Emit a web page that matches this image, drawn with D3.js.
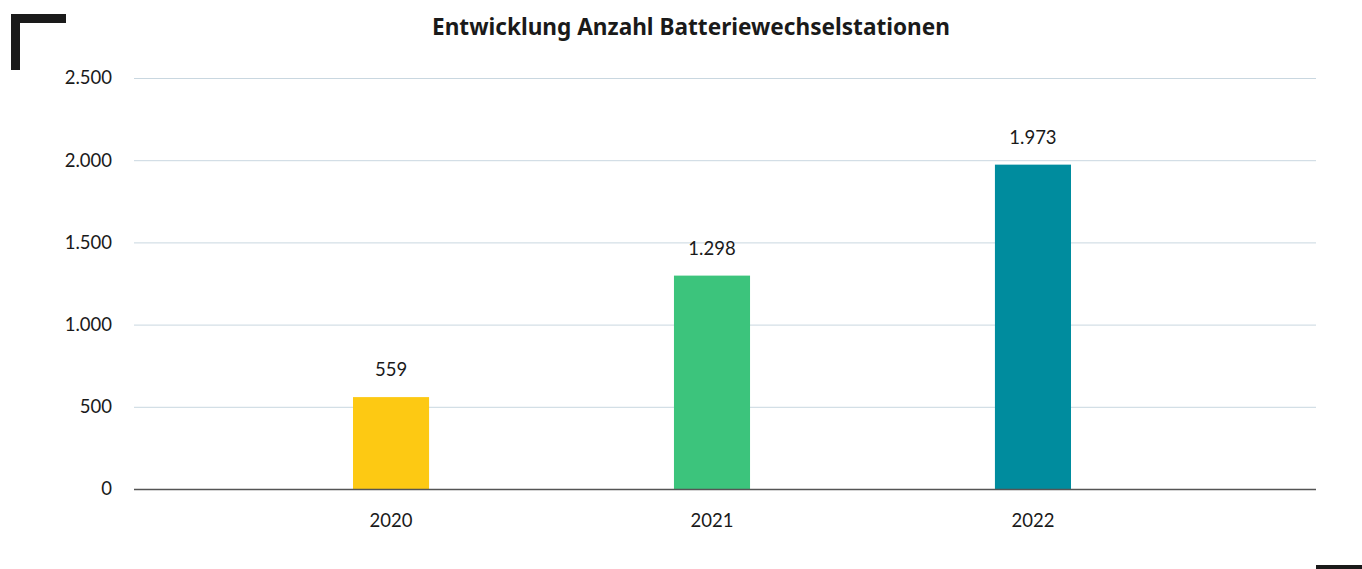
<!DOCTYPE html>
<html><head><meta charset="utf-8">
<script src="https://cdn.jsdelivr.net/npm/d3@7"></script>
<style>html,body{margin:0;padding:0;background:#fff;}svg{display:block;}</style>
</head><body>
<svg id="c" width="1362" height="569"></svg>
<script>
const title = "Entwicklung Anzahl Batteriewechselstationen";
const categories = ["2020", "2021", "2022"];
const values = [559, 1298, 1973];
const colors = ["#fdc913", "#3cc47c", "#008c9e"];
const yTicks = [0, 500, 1000, 1500, 2000, 2500];

const W = 1362, H = 569;
const plot = {left: 134, right: 1316, top: 78, bottom: 489};
const font = "Lato, 'Noto Sans', sans-serif";
const svg = d3.select("#c");

const fmt = v => d3.format(",")(v).replace(/,/g, ".");

const x = d3.scaleBand().domain(categories).range([353, 1071]).paddingInner(0.763).paddingOuter(0);
const y = d3.scaleLinear().domain([0, 2500]).range([plot.bottom, plot.top]);

// corner marks
svg.append("path").attr("d", "M15.5,70 V18.5 H66").attr("fill", "none").attr("stroke", "#1a1a1a").attr("stroke-width", 9).attr("stroke-linejoin", "miter");
svg.append("rect").attr("x", 1316).attr("y", 565).attr("width", 46).attr("height", 6).attr("fill", "#1a1a1a");

// title
svg.append("text").attr("x", 691).attr("y", 35).attr("text-anchor", "middle")
  .attr("font-family", "'Noto Sans', sans-serif").attr("font-weight", 700).attr("font-size", 22.6).attr("fill", "#1a1a1a").text(title);

// gridlines
svg.append("g").selectAll("line").data(yTicks.filter(d => d > 0)).join("line")
  .attr("x1", plot.left).attr("x2", plot.right)
  .attr("y1", d => y(d) + 0.5).attr("y2", d => y(d) + 0.5)
  .attr("stroke", "#c9d7e0").attr("stroke-width", 1);

// y axis labels
const ya = svg.append("g").attr("transform", `translate(${plot.left - 22},0)`)
  .call(d3.axisLeft(y).tickValues(yTicks).tickFormat(fmt).tickSize(0).tickPadding(0));
ya.select(".domain").remove();
ya.selectAll("text").attr("font-family", font).attr("font-size", 18.5).attr("fill", "#1a1a1a");

// bars
svg.append("g").selectAll("rect").data(values).join("rect")
  .attr("x", (d, i) => x(categories[i]))
  .attr("width", x.bandwidth())
  .attr("y", d => y(d))
  .attr("height", d => y(0) - y(d))
  .attr("fill", (d, i) => colors[i]);

// value labels
svg.append("g").selectAll("text").data(values).join("text")
  .attr("x", (d, i) => x(categories[i]) + x.bandwidth() / 2)
  .attr("y", d => y(d) - 21)
  .attr("text-anchor", "middle")
  .attr("font-family", font).attr("font-size", 18.5).attr("fill", "#1a1a1a")
  .text(fmt);

// x axis
const xa = svg.append("g").attr("transform", `translate(0,${plot.bottom})`)
  .call(d3.axisBottom(x).tickSize(0).tickPadding(25));
xa.select(".domain").attr("stroke", "#555").attr("stroke-width", 1.5).attr("d", `M${plot.left},0.5H${plot.right}`);
xa.selectAll("text").attr("font-family", font).attr("font-size", 18.5).attr("fill", "#1a1a1a");
</script>
</body></html>
